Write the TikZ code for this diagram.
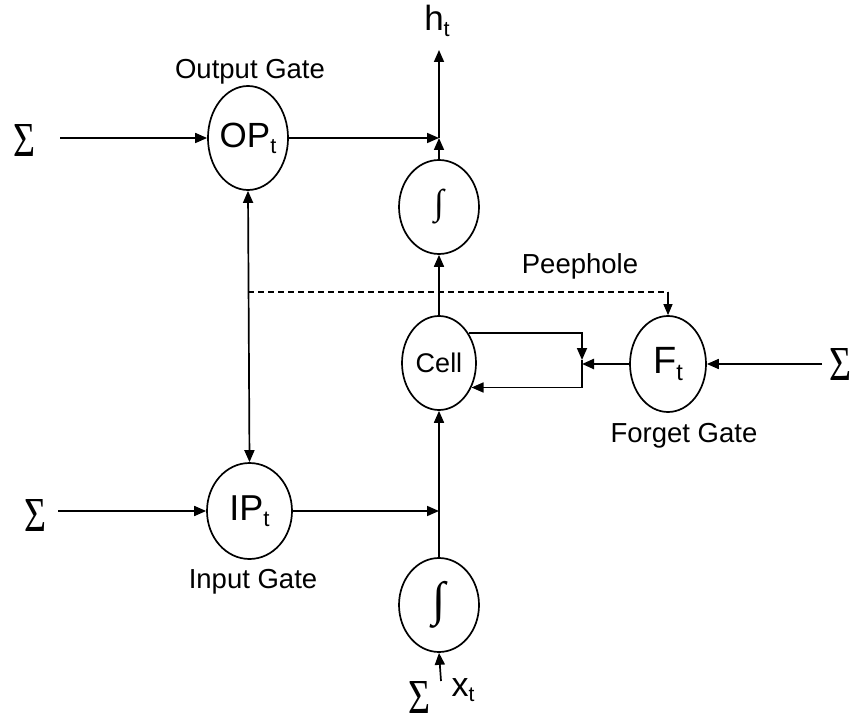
\documentclass[tikz,border=0pt]{standalone}
\usepackage{fontspec}
\usepackage{graphicx}
\setmainfont{Liberation Sans}
\newfontfamily\serifsym{Liberation Serif}
\usetikzlibrary{shapes.geometric,arrows.meta}
\newcommand{\lowsub}[1]{\raisebox{-0.17em}{\scalebox{0.62}{#1}}}
\newcommand{\sumsym}{\resizebox*{22pt}{32pt}{\serifsym Σ}}
\begin{document}
\begin{tikzpicture}[x=1pt,y=-1pt,
  gate/.style={ellipse,draw,line width=1.7pt,inner sep=0pt},
  conn/.style={line width=1.7pt,-{Triangle[length=12pt,width=10pt]}},
  lbl/.style={inner sep=0pt,font=\fontsize{27.5}{32}\selectfont},
  sym/.style={inner sep=0pt}]
\useasboundingbox (0,0) rectangle (851,719);
% gates
\node[gate,minimum width=78pt,minimum height=104pt,font=\fontsize{35}{40}\selectfont] (op) at (248,138) {OP\lowsub{t}};
\node[gate,minimum width=85pt,minimum height=96pt,font=\fontsize{36}{42}\selectfont] (ip) at (249.5,511) {IP\lowsub{t}};
\node[gate,minimum width=80pt,minimum height=94pt] (int1) at (439,207) {\resizebox*{!}{35pt}{\serifsym ∫}};
\node[gate,minimum width=74pt,minimum height=94pt,font=\fontsize{27}{32}\selectfont] (cell) at (439,363) {Cell};
\node[gate,minimum width=80pt,minimum height=94pt] (int2) at (439,605) {\resizebox*{!}{47pt}{\serifsym ∫}};
\node[gate,minimum width=76pt,minimum height=96pt,font=\fontsize{38}{44}\selectfont] (ft) at (668,364) {F\lowsub{t}};
% labels
\node[lbl] (oplbl) at (250,72) {Output Gate};
\node[lbl] (iplbl) at (253,582) {Input Gate};
\node[lbl] (ftlbl) at (684,436) {Forget Gate};
\node[lbl] (peep) at (580,266) {Peephole};
\node[inner sep=0pt,font=\fontsize{35}{40}\selectfont] (ht) at (437,21) {h\lowsub{t}};
\node[inner sep=0pt,font=\fontsize{34}{38}\selectfont] (xt) at (463,690) {x\lowsub{t}};
% sums
\node[sym] (s1) at (24,140) {\sumsym};
\node[sym] (s2) at (35,515) {\sumsym};
\node[sym] (s3) at (840,364) {\sumsym};
\node[sym] (s4) at (419,697) {\sumsym};
% coordinates
\coordinate (s1e) at (60,138);
\coordinate (s2e) at (58,511);
\coordinate (s3w) at (822,364);
\coordinate (jtop) at (439,138);
\coordinate (htend) at (439,50);
\coordinate (jbot) at (439,511);
\coordinate (fbtip) at (582,360);
\coordinate (fbj) at (582,364);
\coordinate (peepL) at (248,292);
\coordinate (peepR) at (668,292);
\coordinate (xtst) at (441,681);
% connectors
\draw[conn] (s1e) -- (op.west);
\draw[conn] (op.east) -- (jtop);
\draw[conn] (int1.north) -- (jtop);
\draw[conn] (jtop) -- (htend);
\draw[conn] (cell.north) -- (int1.south);
\draw[line width=1.7pt,{Triangle[length=12pt,width=10pt]}-{Triangle[length=12pt,width=10pt]}] (op.south) -- (ip.north);
\draw[line width=1.2pt,dash pattern=on 6pt off 4pt] (peepL) -- (peepR);
\draw[line width=1.2pt,-{Triangle[length=11pt,width=9pt]}] (peepR) -- (ft.north);
\draw[conn] (s2e) -- (ip.west);
\draw[conn] (ip.east) -- (jbot);
\draw[conn] (int2.north) -- (cell.south);
\draw[conn] (xtst) -- (int2.south);
\draw[conn] (s3w) -- (ft.east);
\draw[line width=2.4pt,-{Triangle[length=12pt,width=10pt]}] (ft.west) -- (fbj);
\draw[conn] (cell.45) -| (fbtip);
\draw[conn] (fbtip) |- (cell.-37);
\end{tikzpicture}
\end{document}
